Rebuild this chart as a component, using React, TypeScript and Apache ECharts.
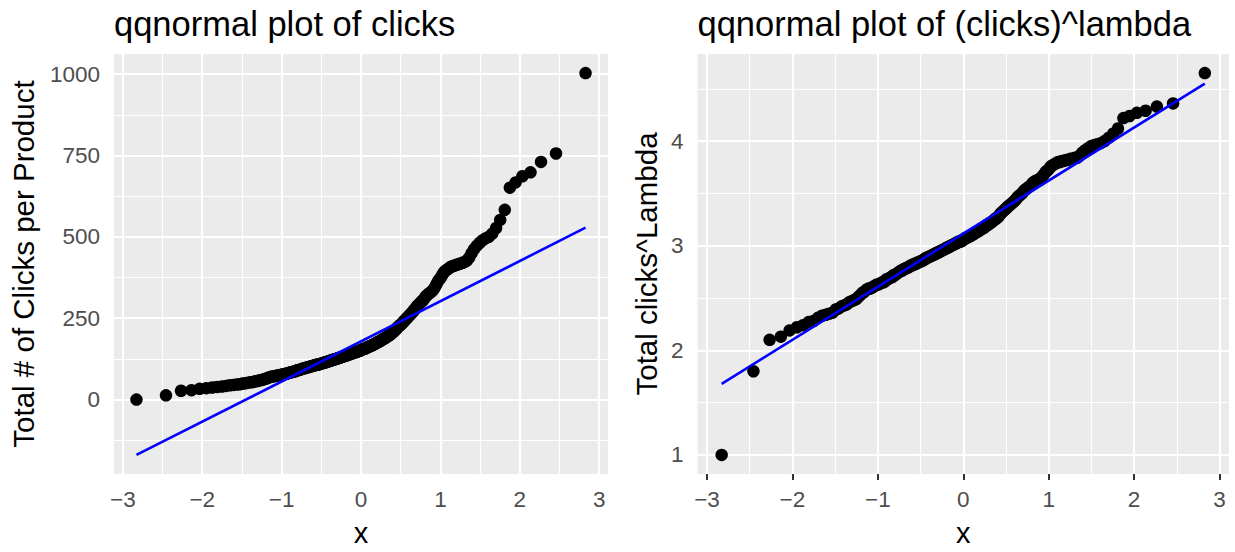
import React, { useEffect, useRef } from "react";
import * as echarts from "echarts";

// Sorted sample values (left panel)
const clicks: number[] = [
  0, 13, 27, 29, 33, 35, 37, 39, 40, 42,
  44, 45, 46, 47, 49, 50, 52, 53, 54, 56,
  57, 59, 60, 62, 64, 66, 68, 70, 71, 72,
  73, 74, 75, 76, 77, 78, 79, 80, 81, 83,
  84, 85, 86, 87, 89, 90, 91, 92, 94, 95,
  96, 97, 98, 99, 100, 101, 102, 103, 104, 105,
  106, 107, 107, 108, 109, 110, 111, 112, 113, 114,
  115, 116, 117, 118, 119, 120, 121, 122, 123, 124,
  125, 126, 127, 128, 129, 130, 131, 132, 133, 134,
  135, 136, 137, 138, 139, 140, 141, 142, 143, 144,
  145, 146, 147, 148, 149, 150, 151, 153, 154, 155,
  156, 157, 159, 160, 161, 162, 164, 165, 166, 168,
  169, 171, 172, 174, 176, 177, 179, 180, 182, 184,
  186, 187, 189, 191, 193, 195, 197, 199, 202, 204,
  207, 210, 213, 216, 220, 223, 226, 229, 232, 235,
  239, 242, 246, 249, 253, 256, 260, 264, 268, 272,
  277, 281, 286, 290, 294, 298, 302, 305, 310, 316,
  320, 324, 327, 330, 334, 339, 346, 355, 364, 370,
  376, 385, 392, 397, 400, 404, 408, 410, 412, 414,
  416, 418, 420, 423, 427, 436, 450, 462, 472, 481,
  489, 495, 500, 510, 527, 552, 583, 651, 667, 686,
  698, 730, 756, 1003,
];

// Sorted transformed values (right panel)
const clicksLambda: number[] = [
  1.0, 1.8, 2.1, 2.13, 2.19, 2.22, 2.24, 2.27, 2.28, 2.31,
  2.33, 2.34, 2.35, 2.36, 2.39, 2.4, 2.42, 2.43, 2.44, 2.46,
  2.47, 2.48, 2.49, 2.51, 2.53, 2.55, 2.56, 2.58, 2.59, 2.59,
  2.6, 2.61, 2.62, 2.63, 2.63, 2.64, 2.65, 2.65, 2.66, 2.68,
  2.68, 2.69, 2.7, 2.7, 2.72, 2.72, 2.73, 2.74, 2.75, 2.76,
  2.76, 2.77, 2.78, 2.78, 2.79, 2.79, 2.8, 2.81, 2.81, 2.82,
  2.82, 2.83, 2.83, 2.84, 2.84, 2.85, 2.85, 2.86, 2.86, 2.87,
  2.88, 2.88, 2.89, 2.89, 2.9, 2.9, 2.91, 2.91, 2.92, 2.92,
  2.93, 2.93, 2.94, 2.94, 2.95, 2.95, 2.96, 2.96, 2.97, 2.97,
  2.98, 2.98, 2.99, 2.99, 3.0, 3.0, 3.01, 3.01, 3.02, 3.02,
  3.03, 3.03, 3.04, 3.04, 3.04, 3.05, 3.05, 3.06, 3.07, 3.07,
  3.08, 3.08, 3.09, 3.09, 3.1, 3.1, 3.11, 3.11, 3.12, 3.13,
  3.13, 3.14, 3.14, 3.15, 3.16, 3.16, 3.17, 3.17, 3.18, 3.19,
  3.2, 3.2, 3.21, 3.22, 3.22, 3.23, 3.24, 3.25, 3.26, 3.26,
  3.27, 3.28, 3.3, 3.31, 3.32, 3.33, 3.34, 3.35, 3.36, 3.37,
  3.38, 3.39, 3.4, 3.41, 3.42, 3.43, 3.44, 3.46, 3.47, 3.48,
  3.49, 3.5, 3.52, 3.53, 3.54, 3.55, 3.56, 3.57, 3.58, 3.6,
  3.61, 3.62, 3.62, 3.63, 3.64, 3.65, 3.67, 3.69, 3.71, 3.72,
  3.74, 3.76, 3.77, 3.78, 3.79, 3.8, 3.8, 3.81, 3.81, 3.82,
  3.82, 3.83, 3.83, 3.84, 3.84, 3.86, 3.89, 3.91, 3.93, 3.95,
  3.96, 3.97, 3.98, 4.0, 4.03, 4.07, 4.12, 4.22, 4.24, 4.27,
  4.29, 4.33, 4.36, 4.65,
];

// Reference line end values (at the first and last theoretical quantile)
const leftLineEnds: number[] = [-170, 528];
const rightLineEnds: number[] = [1.68, 4.55];

// Axis breaks / tick labels
const xTicks: number[] = [-3, -2, -1, 0, 1, 2, 3];
const xMinor: number[] = [-2.5, -1.5, -0.5, 0.5, 1.5, 2.5];
const leftYTicks: number[] = [0, 250, 500, 750, 1000];
const leftYMinor: number[] = [-125, 125, 375, 625, 875];
const rightYTicks: number[] = [1, 2, 3, 4];
const rightYMinor: number[] = [1.5, 2.5, 3.5, 4.5];

const titles: string[] = ["qqnormal plot of clicks", "qqnormal plot of (clicks)^lambda"];
const yNames: string[] = ["Total # of Clicks per Product", "Total clicks^Lambda"];
const xName = "x";

const FONT = "'Liberation Sans', Arial, Helvetica, sans-serif";

// Inverse standard normal CDF (Acklam) for theoretical quantiles
function qnorm(p: number): number {
  const a = [-39.69683028665376, 220.9460984245205, -275.9285104469687, 138.357751867269, -30.66479806614716, 2.506628277459239];
  const b = [-54.47609879822406, 161.5858368580409, -155.6989798598866, 66.80131188771972, -13.28068155288572];
  const c = [-0.007784894002430293, -0.3223964580411365, -2.400758277161838, -2.549732539343734, 4.374664141464968, 2.938163982698783];
  const d = [0.007784695709041462, 0.3224671290700398, 2.445134137142996, 3.754408661907416];
  const pl = 0.02425;
  if (p < pl) {
    const q = Math.sqrt(-2 * Math.log(p));
    return (((((c[0] * q + c[1]) * q + c[2]) * q + c[3]) * q + c[4]) * q + c[5]) / ((((d[0] * q + d[1]) * q + d[2]) * q + d[3]) * q + 1);
  }
  if (p <= 1 - pl) {
    const q = p - 0.5;
    const r = q * q;
    return ((((((a[0] * r + a[1]) * r + a[2]) * r + a[3]) * r + a[4]) * r + a[5]) * q) / (((((b[0] * r + b[1]) * r + b[2]) * r + b[3]) * r + b[4]) * r + 1);
  }
  const q = Math.sqrt(-2 * Math.log(1 - p));
  return -(((((c[0] * q + c[1]) * q + c[2]) * q + c[3]) * q + c[4]) * q + c[5]) / ((((d[0] * q + d[1]) * q + d[2]) * q + d[3]) * q + 1);
}

function theoretical(n: number): number[] {
  const out: number[] = [];
  for (let i = 1; i <= n; i++) out.push(qnorm((i - 0.5) / n));
  return out;
}

function expanded(values: number[]): [number, number] {
  const lo = Math.min(...values);
  const hi = Math.max(...values);
  const pad = (hi - lo) * 0.05;
  return [lo - pad, hi + pad];
}

const fmtNum = (v: number) => (v < 0 ? "\u2212" + String(Math.abs(v)) : String(v));

export default function App() {
  const ref = useRef<HTMLDivElement>(null);

  useEffect(() => {
    if (!ref.current) return;
    const chart = echarts.init(ref.current, undefined, { renderer: "svg" });

    const panels = [
      { values: clicks, line: leftLineEnds, yTicks: leftYTicks, yMinor: leftYMinor },
      { values: clicksLambda, line: rightLineEnds, yTicks: rightYTicks, yMinor: rightYMinor },
    ];
    const grids = [
      { left: 114, top: 54, width: 494, height: 429 },
      { left: 697.5, top: 54, width: 531.5, height: 429 },
    ];
    const yNameGaps = [76, 36];

    const xAxes: any[] = [];
    const yAxes: any[] = [];
    const series: any[] = [];

    panels.forEach((p, k) => {
      const xs = theoretical(p.values.length);
      const xr = expanded(xs);
      const yr = expanded([...p.values, ...p.line]);
      xAxes.push({
        type: "value",
        gridIndex: k,
        min: xr[0],
        max: xr[1],
        axisLine: { show: false },
        axisTick: { show: true, customValues: xTicks, length: 6, lineStyle: { color: "#333333", width: 2 } },
        axisLabel: { customValues: xTicks, formatter: fmtNum, color: "#4D4D4D", fontSize: 22.5, fontFamily: FONT, margin: 14 },
        splitLine: { show: false },
        name: xName,
        nameLocation: "middle",
        nameGap: 44,
        nameTextStyle: { color: "#000000", fontSize: 29, fontFamily: FONT },
      });
      yAxes.push({
        type: "value",
        gridIndex: k,
        min: yr[0],
        max: yr[1],
        axisLine: { show: false },
        axisTick: { show: true, customValues: p.yTicks, length: 6, lineStyle: { color: "#333333", width: 2 } },
        axisLabel: { customValues: p.yTicks, formatter: fmtNum, color: "#4D4D4D", fontSize: 22.5, fontFamily: FONT, margin: 14 },
        splitLine: { show: false },
        name: yNames[k],
        nameLocation: "middle",
        nameGap: yNameGaps[k],
        nameTextStyle: { color: "#000000", fontSize: 29.5, fontFamily: FONT },
      });

      const gridLines: any[] = [];
      xMinor.forEach((v) => gridLines.push({ xAxis: v, lineStyle: { color: "#FFFFFF", width: 1.1, type: "solid" } }));
      p.yMinor.forEach((v) => {
        if (v > yr[0] && v < yr[1]) gridLines.push({ yAxis: v, lineStyle: { color: "#FFFFFF", width: 1.1, type: "solid" } });
      });
      xTicks.forEach((v) => gridLines.push({ xAxis: v, lineStyle: { color: "#FFFFFF", width: 2.2, type: "solid" } }));
      p.yTicks.forEach((v) => gridLines.push({ yAxis: v, lineStyle: { color: "#FFFFFF", width: 2.2, type: "solid" } }));

      series.push({
        type: "scatter",
        xAxisIndex: k,
        yAxisIndex: k,
        data: p.values.map((v, i) => [xs[i], v]),
        symbol: "circle",
        symbolSize: 12.5,
        itemStyle: { color: "#000000", opacity: 1 },
        z: 2,
        silent: true,
      });
      series.push({
        type: "line",
        xAxisIndex: k,
        yAxisIndex: k,
        data: [
          [xs[0], p.line[0]],
          [xs[xs.length - 1], p.line[1]],
        ],
        symbol: "none",
        lineStyle: { color: "#0000FF", width: 2.6 },
        z: 3,
        silent: true,
        markLine: {
          silent: true,
          z: 1,
          symbol: ["none", "none"],
          label: { show: false },
          emphasis: { disabled: true },
          animation: false,
          data: gridLines,
        },
      });
    });

    chart.setOption({
      animation: false,
      textStyle: { fontFamily: FONT },
      title: titles.map((t, k) => ({
        text: t,
        left: grids[k].left,
        top: 6,
        padding: 0,
        textStyle: { fontSize: 34.5, fontWeight: "normal", color: "#000000", fontFamily: FONT },
      })),
      grid: grids.map((g) => ({ ...g, show: true, backgroundColor: "#EBEBEB", borderWidth: 0, containLabel: false })),
      xAxis: xAxes,
      yAxis: yAxes,
      series,
    });

    return () => chart.dispose();
  }, []);

  return (
    <div
      ref={ref}
      style={{ position: "fixed", left: 0, top: 0, width: 1235, height: 552, background: "#FFFFFF" }}
    />
  );
}
